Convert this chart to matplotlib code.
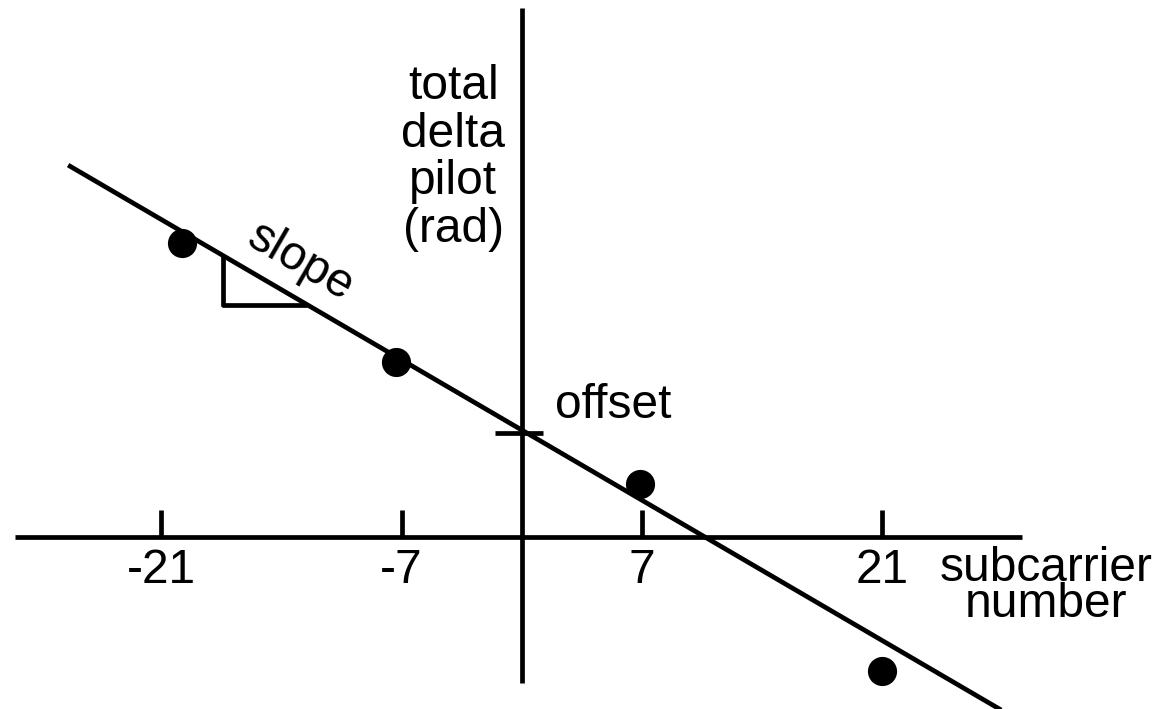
import matplotlib
matplotlib.use("Agg")
import matplotlib.pyplot as plt
import numpy as np

# ---- data ----
tick_positions = [-21, -7, 7, 21]
tick_labels = ["-21", "-7", "7", "21"]
point_x = [-19.8, -7.3, 6.9, 21.0]
point_y = [17.1, 10.2, 3.1, -7.8]
fit_offset = 6.22
fit_slope = -0.584
fit_x_range = [-26.44, 28.8]
slope_triangle_x = [-17.41, -12.52]
y_label_text = "total\ndelta\npilot\n(rad)"
x_label_text = "subcarrier\nnumber"

plt.rcParams['font.family'] = ['Liberation Sans', 'DejaVu Sans']

W, H, DPI = 1157, 709, 100
fig = plt.figure(figsize=(W / DPI, H / DPI), dpi=DPI)
ax = fig.add_axes([0, 0, 1, 1])
ax.set_axis_off()
pxu = 17.155
x0, y0 = 521.7, 536.7
ax.set_xlim(-x0 / pxu, (W - x0) / pxu)
ax.set_ylim(-(H - y0) / pxu, y0 / pxu)

LW = 3.4
FS = 34.5
kw = dict(color="black", lw=LW, solid_capstyle="butt")

# axes lines
ax.plot([-29.55, 29.17], [0, 0], **kw)
ax.plot([0, 0], [-8.54, 30.82], **kw)

# ticks and labels
for t, lab in zip(tick_positions, tick_labels):
    ax.plot([t, t], [0, 1.56], **kw)
    ax.text(t, -2.70, lab, ha="center", va="baseline", fontsize=FS)

# fit line
fx = np.array(fit_x_range)
ax.plot(fx, fit_offset + fit_slope * fx, **kw)

# points
ax.plot(point_x, point_y, "o", color="black", markersize=21, markeredgewidth=0)

# offset marker
ax.plot([-1.56, 1.24], [6.05, 6.05], **kw)
ax.text(1.94, 6.92, "offset", ha="left", va="baseline", fontsize=FS)

# slope triangle
xa, xb = slope_triangle_x
ya = fit_offset + fit_slope * xa
yb = fit_offset + fit_slope * xb
ax.plot([xa, xa, xb], [ya, yb, yb], **kw)
ax.text(-12.9, 16.0, "slope", ha="center", va="center", fontsize=FS,
        rotation=-30, rotation_mode="anchor")

# y label (multi-line, last baseline at ~241.7 px)
ax.text(-3.98, (y0 - 241.7) / pxu, y_label_text, ha="center", va="baseline",
        multialignment="center", fontsize=FS, linespacing=1.073)

# x label (multi-line, tight spacing, last baseline at ~617 px)
ax.text((1046 - x0) / pxu, (y0 - 617.0) / pxu, x_label_text, ha="center", va="baseline",
        multialignment="center", fontsize=FS, linespacing=0.756)

fig.savefig("out.png", dpi=DPI, facecolor="white")
